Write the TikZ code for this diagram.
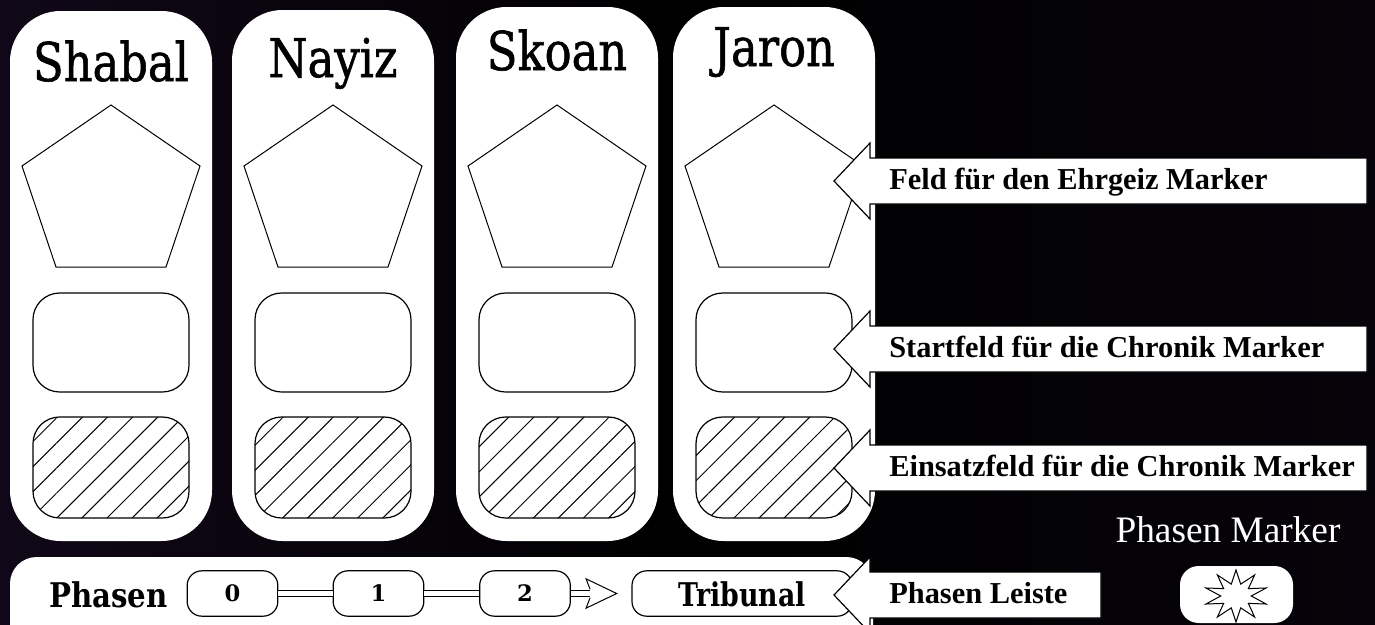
\documentclass[tikz,border=0pt]{standalone}
\usepackage{fontspec}
\usepackage{graphicx}
\usetikzlibrary{patterns.meta,arrows.meta,calc}
\newfontfamily\slabfont{DejaVu Serif}
\newfontfamily\slabmid[FakeBold=1.2]{DejaVu Serif}
\newfontfamily\labfont{Liberation Serif}
\newcommand{\narrowtext}[2]{\scalebox{#1}[1]{#2}}
\definecolor{bgdark}{RGB}{6,3,10}
\definecolor{bgside}{RGB}{16,8,24}
\tikzset{
  colbox/.style={fill=white, rounded corners=38},
  fieldbox/.style={draw=black, line width=0.9pt, fill=white, rounded corners=20},
  hatchbox/.style={draw=black, line width=0.9pt, rounded corners=20,
     pattern={Lines[angle=45,distance=13.3pt,line width=0.75pt]}, pattern color=black},
  penta/.style={draw=black, line width=0.75pt, fill=white},
  titletext/.style={anchor=base, inner sep=0, font=\slabmid\fontsize{40}{40}\selectfont},
  callout/.style={draw=black, line width=0.9pt, fill=white},
  calltext/.style={anchor=base west, inner sep=0, font=\labfont\bfseries\fontsize{22.8}{22.8}\selectfont},
  phasebox/.style={draw=black, line width=0.9pt, fill=white, rounded corners=11, minimum height=34pt, inner sep=0},
  numtext/.style={font=\slabfont\bfseries\fontsize{17}{17}\selectfont},
  link/.style={draw=black, line width=0.75pt, double=white, double distance=3.5pt},
  chevron/.style={draw=black, line width=0.75pt, fill=white, line join=miter},
}
\begin{document}
\begin{tikzpicture}[x=0.75pt, y=-0.75pt]
\useasboundingbox (0,0) rectangle (1375,625);
\shade[left color=bgside, right color=bgdark, middle color=black, shading angle=90] (0,0) rectangle (1375,625);

% columns
\foreach \cx/\top/\name/\base [count=\i] in {111/11/Shabal/81, 333/10/Nayiz/77, 557/7/Skoan/70, 774/7/Jaron/66}{
  \fill[colbox] (\cx-101,\top) rectangle (\cx+101,541);
  \node[titletext] (title\i) at (\cx,\base) {\narrowtext{0.84}{\name}};
  \draw[penta] (\cx,105) -- (\cx+89,166) -- (\cx+55,267) -- (\cx-55,267) -- (\cx-89,166) -- cycle;
  \draw[fieldbox] (\cx-78,293) rectangle (\cx+78,392);
  \fill[white, rounded corners=20] (\cx-78,417) rectangle (\cx+78,518);
  \draw[hatchbox] (\cx-78,417) rectangle (\cx+78,518);
}

% phase bar
\fill[white, rounded corners=20] (10,557) rectangle (873,660);
\node[anchor=base west, inner sep=0, font=\slabfont\bfseries\fontsize{25.5}{25.5}\selectfont] (phasen) at (49,607) {\narrowtext{0.86}{Phasen}};
\node[phasebox, minimum width=68pt] (p0) at (232.5,593.5) {};
\node[numtext] at (p0) {0};
\node[phasebox, minimum width=68pt] (p1) at (378.5,593.5) {};
\node[numtext] at (p1) {1};
\node[phasebox, minimum width=68pt] (p2) at (525,593.5) {};
\node[numtext] at (p2) {2};
\node[phasebox, minimum width=165pt] (trib) at (742,593.5) {};
\node[anchor=base, inner sep=0, font=\slabfont\bfseries\fontsize{24.5}{24.5}\selectfont] at (742,606) {\narrowtext{0.82}{Tribunal}};
\draw[link] (p0.east) -- (p1.west);
\draw[link] (p1.east) -- (p2.west);
\coordinate (tip) at ([xshift=-11pt]trib.west);
\draw[link] (p2.east) -- ([xshift=-14]tip);
\draw[chevron] ([xshift=-20,yshift=-3.2]tip) -- ([xshift=-23,yshift=-11]tip) -- (tip) -- ([xshift=-23,yshift=11]tip) -- ([xshift=-20,yshift=3.2]tip);

% callouts
\foreach \cy/\xr/\txt [count=\j] in {181/1367/{Feld für den Ehrgeiz Marker}, 349/1367/{Startfeld für die Chronik Marker}, 468/1367/{Einsatzfeld für die Chronik Marker}, 595/1101/{Phasen Leiste}}{
  \draw[callout] (834,\cy) -- (870,\cy-38) -- (870,\cy-23) -- (\xr,\cy-23) -- (\xr,\cy+23) -- (870,\cy+23) -- (870,\cy+38) -- cycle;
  \node[calltext] (call\j) at (889,\cy+8) {\txt};
}

% phase marker
\node[anchor=base, inner sep=0, text=white, font=\labfont\fontsize{28}{28}\selectfont] (pmlabel) at (1228,542) {Phasen Marker};
\fill[white, rounded corners=14] (1180,566) rectangle (1293,623);
\coordinate (mk) at (1236,596);
\draw[black, line width=0.75pt, fill=white]
  ($(mk)+(0,-26)$)
  \foreach \k [evaluate=\k as \r using {ifthenelse(mod(\k,2)==0,26,12.5)}] in {1,...,19} {
    -- ($(mk)+({1.22*\r*cos(90+18*\k)},{-\r*sin(90+18*\k)})$)
  } -- cycle;
\end{tikzpicture}
\end{document}
